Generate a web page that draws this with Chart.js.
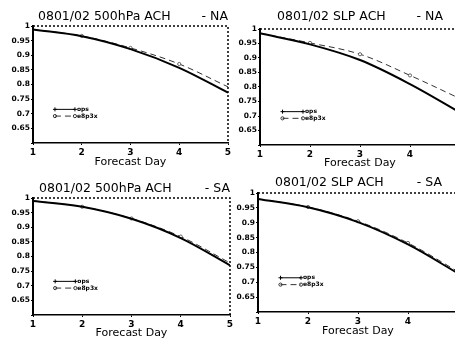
<!DOCTYPE html>
<html>
<head>
<meta charset="utf-8">
<script src="https://cdn.jsdelivr.net/npm/chart.js@4.4.1/dist/chart.umd.min.js"></script>
<style>
  html, body { margin: 0; padding: 0; background: #fff; }
  body { width: 455px; height: 342px; overflow: hidden; position: relative; }
  canvas { position: absolute; }
  .ttl { position: absolute; font-family: "DejaVu Sans", sans-serif; font-size: 12.5px; color: #000; white-space: pre; line-height: 14px; }
</style>
</head>
<body>
<script>
// forecast days (x axis)
const days = [1, 2, 3, 4, 5];
const yTicks = [0.6, 0.65, 0.7, 0.75, 0.8, 0.85, 0.9, 0.95, 1];
const seriesNames = ['ops', 'e8p3x'];

// anomaly correlation
const naZ500Ops = [0.988, 0.965, 0.921, 0.857, 0.772];
const naZ500E8p3x = [0.988, 0.966, 0.925, 0.870, 0.792];
const naSlpOps = [0.985, 0.947, 0.893, 0.810, 0.712];
const naSlpE8p3x = [0.985, 0.952, 0.913, 0.840, 0.760];
const saZ500Ops = [0.990, 0.970, 0.929, 0.863, 0.770];
const saZ500E8p3x = [0.990, 0.970, 0.930, 0.868, 0.778];
const saSlpOps = [0.980, 0.952, 0.902, 0.827, 0.730];
const saSlpE8p3x = [0.980, 0.953, 0.905, 0.832, 0.736];

const titles = ['0801/02 500hPa ACH', '0801/02 SLP ACH', '0801/02 500hPa ACH', '0801/02 SLP ACH'];
const regions = ['- NA', '- NA', '- SA', '- SA'];

// where each panel sits on the page
const panels = [
  { ops: naZ500Ops, exp: naZ500E8p3x, cl: 0, ct: 20, cw: 240, cb: 172, pl: 33, pt: 26, pr: 228, pb: 143, tx: 38, ty: 9, rx: 228 },
  { ops: naSlpOps, exp: naSlpE8p3x, cl: 228, ct: 22, cw: 240, cb: 173, pl: 260, pt: 29, pr: 460, pb: 145, tx: 277, ty: 9, rx: 443 },
  { ops: saZ500Ops, exp: saZ500E8p3x, cl: 0, ct: 192, cw: 240, cb: 343, pl: 33, pt: 198, pr: 230, pb: 315, tx: 39, ty: 181, rx: 230 },
  { ops: saSlpOps, exp: saSlpE8p3x, cl: 228, ct: 187, cw: 240, cb: 341, pl: 258, pt: 193, pr: 458, pb: 312, tx: 275, ty: 175, rx: 442 },
];

function fmtTick(v) {
  if (Math.abs(v - 0.6) < 1e-6) {
    return '';
  }
  return String(Number(v.toFixed(2)));
}

// dotted frame on top and right side
const framePlugin = {
  id: 'frame',
  afterDraw(chart) {
    const { ctx, chartArea: a } = chart;
    ctx.save();
    ctx.strokeStyle = '#000';
    ctx.lineWidth = 1.5;
    ctx.setLineDash([2, 2]);
    ctx.beginPath();
    ctx.moveTo(a.left, a.top);
    ctx.lineTo(a.right, a.top);
    ctx.lineTo(a.right, a.bottom);
    ctx.stroke();
    ctx.restore();
  },
};

// small legend inside the plot, like the original
const innerLegend = {
  id: 'innerLegend',
  afterDraw(chart) {
    const { ctx, scales } = chart;
    const x0 = scales.x.getPixelForValue(1.45);
    const x1 = scales.x.getPixelForValue(1.86);
    const rows = [0.715, 0.692];
    ctx.save();
    chart.data.datasets.forEach((ds, i) => {
      const y = scales.y.getPixelForValue(rows[i]);
      ctx.strokeStyle = ds.borderColor;
      ctx.lineWidth = 1;
      ctx.setLineDash(ds.borderDash || []);
      ctx.beginPath();
      ctx.moveTo(x0, y);
      ctx.lineTo(x1, y);
      ctx.stroke();
      ctx.setLineDash([]);
      [x0, x1].forEach((x) => {
        ctx.beginPath();
        if (ds.pointStyle === 'circle') {
          ctx.arc(x, y, 1.6, 0, Math.PI * 2);
        } else {
          ctx.moveTo(x - 2, y);
          ctx.lineTo(x + 2, y);
          ctx.moveTo(x, y - 2);
          ctx.lineTo(x, y + 2);
        }
        ctx.stroke();
      });
      ctx.fillStyle = '#000';
      ctx.font = 'bold 6px "DejaVu Sans"';
      ctx.textBaseline = 'middle';
      ctx.fillText(ds.label, x1 + 2, y);
    });
    ctx.restore();
  },
};

panels.forEach((p, idx) => {
  const canvas = document.createElement('canvas');
  const ch = p.cb - p.ct;
  canvas.width = p.cw;
  canvas.height = ch;
  canvas.style.left = p.cl + 'px';
  canvas.style.top = p.ct + 'px';
  canvas.style.width = p.cw + 'px';
  canvas.style.height = ch + 'px';
  document.body.appendChild(canvas);

  const t = document.createElement('div');
  t.className = 'ttl';
  t.style.left = p.tx + 'px';
  t.style.top = p.ty + 'px';
  t.textContent = titles[idx];
  document.body.appendChild(t);

  const r = document.createElement('div');
  r.className = 'ttl';
  r.style.right = (455 - p.rx) + 'px';
  r.style.top = p.ty + 'px';
  r.textContent = regions[idx];
  document.body.appendChild(r);

  new Chart(canvas, {
    type: 'line',
    data: {
      datasets: [
        {
          label: seriesNames[0],
          data: days.map((d, i) => ({ x: d, y: p.ops[i] })),
          borderColor: '#000',
          borderWidth: 2,
          pointStyle: 'cross',
          pointRadius: 0,
          tension: 0.35,
        },
        {
          label: seriesNames[1],
          data: days.map((d, i) => ({ x: d, y: p.exp[i] })),
          borderColor: '#333',
          borderWidth: 1,
          borderDash: [6, 4],
          pointStyle: 'circle',
          pointRadius: [0, 1.6, 1.6, 1.6, 0],
          pointBackgroundColor: '#fff',
          pointBorderColor: '#444',
          pointBorderWidth: 0.8,
          tension: 0.35,
        },
      ],
    },
    options: {
      responsive: false,
      animation: false,
      devicePixelRatio: 1,
      layout: {
        padding: { top: p.pt - p.ct, right: p.cl + p.cw - p.pr, left: 0, bottom: 0 },
      },
      plugins: {
        legend: { display: false },
        tooltip: { enabled: false },
      },
      scales: {
        x: {
          type: 'linear',
          min: days[0],
          max: days[days.length - 1],
          afterFit(scale) { scale.height = p.cb - p.pb; },
          afterBuildTicks(scale) { scale.ticks = days.map((v) => ({ value: v })); },
          grid: { drawOnChartArea: false, drawTicks: true, tickLength: 2, color: '#000' },
          border: { display: true, color: '#000', width: 1.5, dash: [3, 2] },
          ticks: {
            color: '#000',
            padding: 2,
            maxRotation: 0,
            font: { family: 'DejaVu Sans', size: 9, weight: 'bold' },
          },
          title: {
            display: true,
            text: 'Forecast Day',
            color: '#000',
            padding: { top: 0, bottom: 3 },
            font: { family: 'DejaVu Sans', size: 11 },
          },
        },
        y: {
          min: yTicks[0],
          max: yTicks[yTicks.length - 1],
          afterFit(scale) { scale.width = p.pl - p.cl; },
          afterBuildTicks(scale) { scale.ticks = yTicks.map((v) => ({ value: v })); },
          grid: { drawOnChartArea: false, drawTicks: true, tickLength: 2, color: '#000' },
          border: { display: true, color: '#000', width: 2 },
          ticks: {
            color: '#000',
            padding: 1,
            callback: (v) => fmtTick(v),
            font: { family: 'DejaVu Sans', size: 7.5, weight: 'bold' },
          },
        },
      },
    },
    plugins: [framePlugin, innerLegend],
  });
});
</script>
</body>
</html>
